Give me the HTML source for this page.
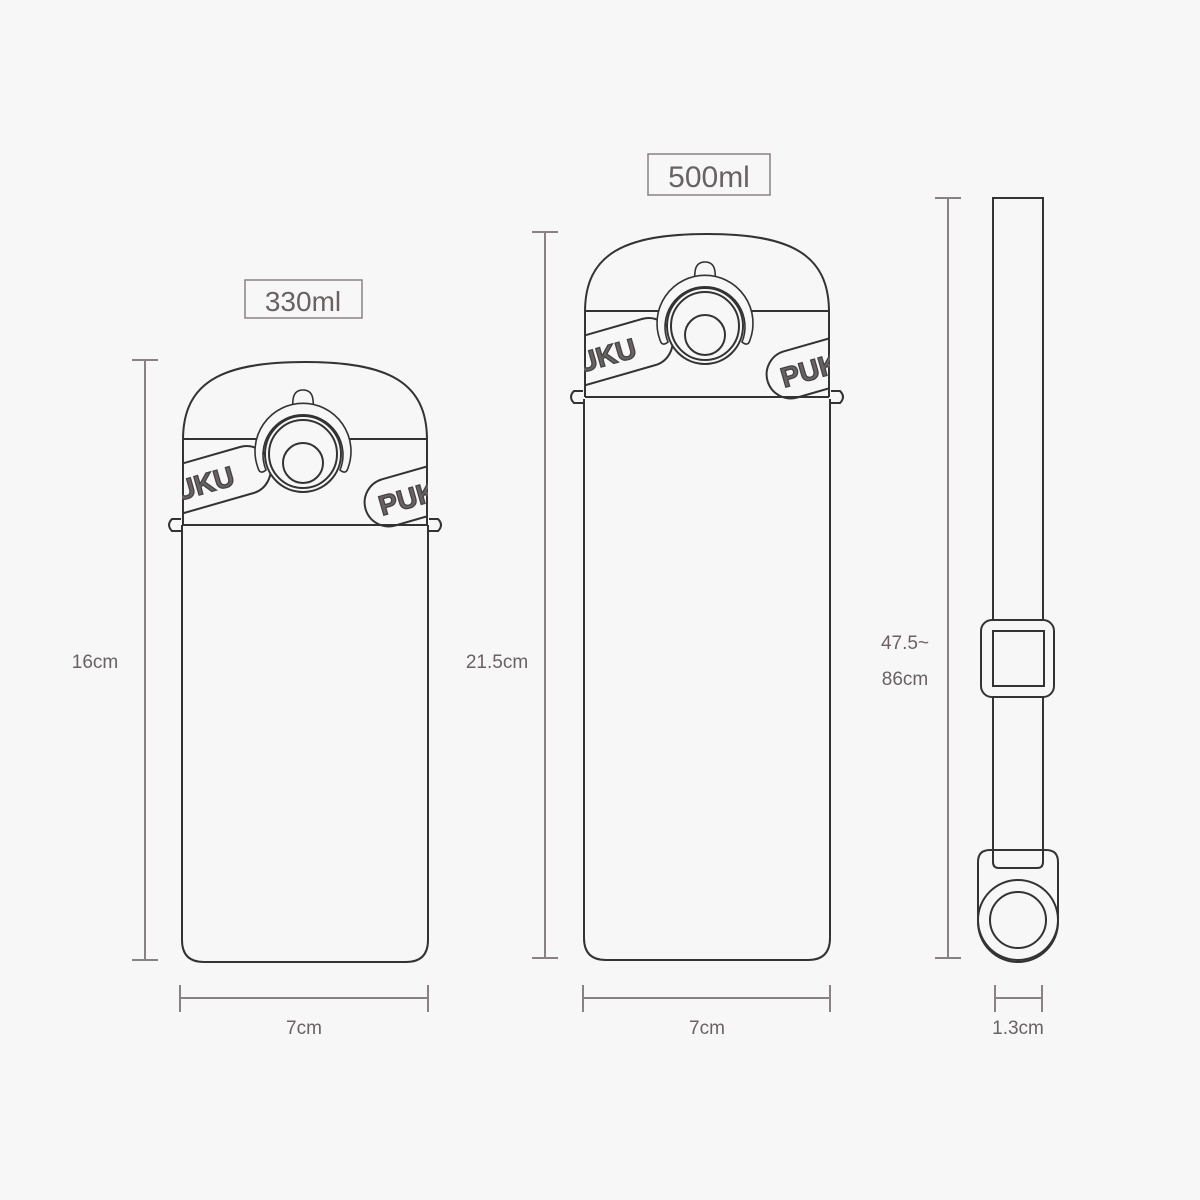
<!DOCTYPE html>
<html><head><style>
html,body{margin:0;padding:0;background:#f7f7f7;}
svg{display:block}
text{font-family:"Liberation Sans","DejaVu Sans",sans-serif;fill:#6a6262;}
</style></head><body>
<svg width="1200" height="1200" viewBox="0 0 1200 1200" xmlns="http://www.w3.org/2000/svg">
<rect width="1200" height="1200" fill="#f7f7f7"/>
<defs>
<clipPath id="capclip"><rect x="0" y="60" width="246" height="110"/></clipPath>
<g id="cap" fill="none" stroke="#333" stroke-width="2">
  <path d="M1,163 L1,78 C1,20 40,0 123,0 C206,0 245,20 245,78 L245,163"/>
  <line x1="1" y1="77" x2="245" y2="77"/>
  <line x1="1" y1="163" x2="245" y2="163"/>
  <path d="M-1,157 L-10,157 Q-16,163 -10,169 L-1,169"/>
  <path d="M247,157 L256,157 Q262,163 256,169 L247,169"/>
  <g clip-path="url(#capclip)">
    <g transform="translate(30,118) rotate(-16)">
      <rect x="-70" y="-24" width="130" height="48" rx="24"/>
      <text x="22" y="11" font-size="28" font-weight="bold" text-anchor="end" fill="#f7f7f7" stroke="#444" stroke-width="1.3">PUKU</text>
    </g>
    <g transform="translate(222,136) rotate(-16)">
      <rect x="-40" y="-24" width="130" height="48" rx="24"/>
      <text x="-26" y="11" font-size="28" font-weight="bold" fill="#f7f7f7" stroke="#444" stroke-width="1.3">PUKU</text>
    </g>
  </g>
  <path d="M106,50 Q111,46 111,38 Q112,28 121,28 Q130,28 131,38 Q131,46 136,50" fill="#f7f7f7" stroke-width="1.6"/>
  <path d="M76,106 A48,48 0 1 1 166,106 Q164,113 158,108 A40,40 0 1 0 84,108 Q78,113 76,106 Z" fill="#f7f7f7" stroke-width="1.6"/>
  <circle cx="121" cy="92" r="38" fill="#f7f7f7"/>
  <circle cx="121" cy="92" r="34"/>
  <circle cx="121" cy="101" r="20"/>
</g>
</defs>

<path d="M182,525 L182,940 Q182,962 204,962 L406,962 Q428,962 428,940 L428,525" fill="none" stroke="#333" stroke-width="2"/>
<use href="#cap" transform="translate(182,362)"/>

<path d="M584,399 L584,938 Q584,960 606,960 L808,960 Q830,960 830,938 L830,399" fill="none" stroke="#333" stroke-width="2"/>
<use href="#cap" transform="translate(584,234)"/>

<g fill="none" stroke="#333" stroke-width="2">
  <rect x="993" y="198" width="50" height="670"/>
  <rect x="981" y="620" width="73" height="77" rx="11" fill="#f7f7f7"/>
  <rect x="993" y="631" width="51" height="55"/>
  <path d="M978,922 L978,862 Q978,850 990,850 L1046,850 Q1058,850 1058,862 L1058,922 A40,40 0 0 1 978,922 Z" fill="#f7f7f7"/>
  <path d="M993,850 L993,862 Q993,868 999,868 L1037,868 Q1043,868 1043,862 L1043,850"/>
  <circle cx="1018" cy="920" r="40"/>
  <circle cx="1018" cy="920" r="28"/>
</g>

<g stroke="#8a8282" stroke-width="2" fill="none">
  <line x1="145" y1="360" x2="145" y2="960"/><line x1="132" y1="360" x2="158" y2="360"/><line x1="132" y1="960" x2="158" y2="960"/>
  <line x1="545" y1="232" x2="545" y2="958"/><line x1="532" y1="232" x2="558" y2="232"/><line x1="532" y1="958" x2="558" y2="958"/>
  <line x1="948" y1="198" x2="948" y2="958"/><line x1="935" y1="198" x2="961" y2="198"/><line x1="935" y1="958" x2="961" y2="958"/>
  <line x1="180" y1="998" x2="428" y2="998"/><line x1="180" y1="985" x2="180" y2="1012"/><line x1="428" y1="985" x2="428" y2="1012"/>
  <line x1="583" y1="998" x2="830" y2="998"/><line x1="583" y1="985" x2="583" y2="1012"/><line x1="830" y1="985" x2="830" y2="1012"/>
  <line x1="995" y1="998" x2="1042" y2="998"/><line x1="995" y1="985" x2="995" y2="1012"/><line x1="1042" y1="985" x2="1042" y2="1012"/>
  <rect x="245" y="280" width="117" height="38" stroke-width="1.5"/>
  <rect x="648" y="154" width="122" height="41" stroke-width="1.5"/>
</g>
<text x="303" y="311" font-size="28" text-anchor="middle">330ml</text>
<text x="709" y="187" font-size="30" text-anchor="middle">500ml</text>
<text x="95" y="668" font-size="19" text-anchor="middle">16cm</text>
<text x="497" y="668" font-size="19" text-anchor="middle">21.5cm</text>
<text x="905" y="649" font-size="19" text-anchor="middle">47.5~</text>
<text x="905" y="685" font-size="19" text-anchor="middle">86cm</text>
<text x="304" y="1034" font-size="19" text-anchor="middle">7cm</text>
<text x="707" y="1034" font-size="19" text-anchor="middle">7cm</text>
<text x="1018" y="1034" font-size="19" text-anchor="middle">1.3cm</text>
</svg>
</body></html>
